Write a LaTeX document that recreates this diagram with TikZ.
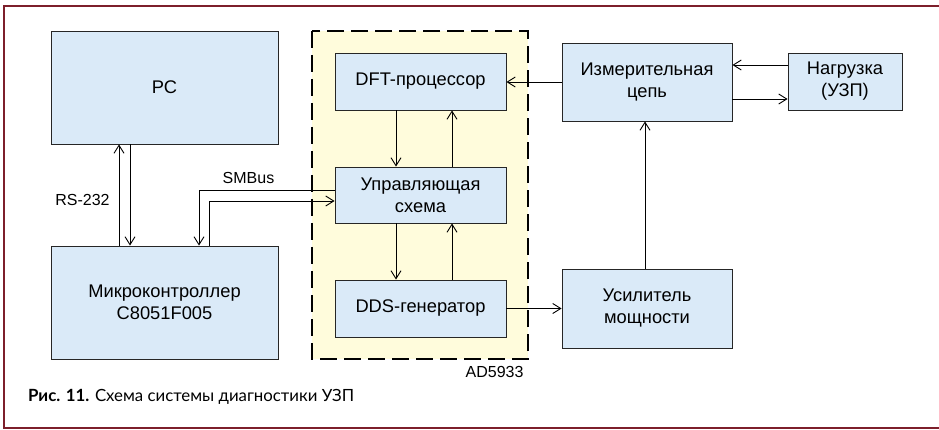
\documentclass[tikz,border=0pt]{standalone}
\usepackage{fontspec}
\setmainfont{Liberation Sans}
\newfontfamily\capfont{Lato}
\usetikzlibrary{arrows.meta}
\definecolor{boxblue}{HTML}{DAEAF8}
\definecolor{chipyellow}{HTML}{FFFCDC}
\definecolor{framered}{HTML}{7D1F2B}
\tikzset{
    blk/.style={draw=black!85, fill=boxblue, line width=0.9pt, align=center,
        font=\fontsize{18.3}{22}\selectfont, inner sep=0pt},
    lnk/.style={line width=0.9pt, -{Straight Barb[length=8pt,width=10pt,line width=0.9pt]}},
    wire/.style={line width=0.9pt},
    lbl/.style={font=\fontsize{16}{19}\selectfont}
}
\begin{document}
\begin{tikzpicture}[x=1pt, y=-1pt]
            \useasboundingbox (0,0) rectangle (939,430);
            % ---------- frame ----------
            \draw[framered, line width=2pt] (939,6) -- (4,6) -- (4,428) -- (939,428);
            % ---------- AD5933 ----------
            \draw[fill=chipyellow, line width=1.4pt, dash pattern=on 17pt off 7pt]
                (312,31) rectangle (528,359);
            \node[lbl, anchor=east] (chip) at (527,372) {AD5933};
            % ---------- blocks ----------
            \node[blk, minimum width=227pt, minimum height=113pt] (pc) at (164.5,87.5) {PC};
            \node[blk, minimum width=227pt, minimum height=113pt] (mcu) at (164.5,302.5)
                {Микроконтроллер\\C8051F005};
            \node[blk, minimum width=171pt, minimum height=57pt] (dft) at (420.5,81.5) {DFT-процессор};
            \node[blk, minimum width=171pt, minimum height=56pt] (ctrl) at (420.5,195)
                {Управляющая\\схема};
            \node[blk, minimum width=171pt, minimum height=57pt] (dds) at (420.5,308.5) {DDS-генератор};
            \node[blk, minimum width=170pt, minimum height=78pt] (meas) at (647,82)
                {Измерительная\\цепь};
            \node[blk, minimum width=114pt, minimum height=57pt] (load) at (845,81.5)
                {Нагрузка\\(УЗП)};
            \node[blk, minimum width=170pt, minimum height=79pt] (amp) at (647,308.5)
                {Усилитель\\мощности};
            % ---------- RS-232 ----------
            \draw[lnk] ([xshift=-45.5pt]mcu.north) -- ([xshift=-45.5pt]pc.south);
            \draw[lnk] ([xshift=-34.5pt]pc.south) -- ([xshift=-34.5pt]mcu.north);
            \node[lbl] (rs) at (82.5,200) {RS-232};
            % ---------- SMBus ----------
            \draw[lnk] ([yshift=5pt]ctrl.west) -| ([xshift=34.5pt]mcu.north);
            \draw[lnk] ([xshift=44.5pt]mcu.north) |- ([yshift=-6pt]ctrl.west);
            \node[lbl] (smbus) at (248.5,178) {SMBus};
            % ---------- inside the chip ----------
            \draw[lnk] ([xshift=-24.5pt]dft.south) -- ([xshift=-24.5pt]ctrl.north);
            \draw[lnk] ([xshift=31.5pt]ctrl.north) -- ([xshift=31.5pt]dft.south);
            \draw[lnk] ([xshift=-24.5pt]ctrl.south) -- ([xshift=-24.5pt]dds.north);
            \draw[lnk] ([xshift=31.5pt]dds.north) -- ([xshift=31.5pt]ctrl.south);
            % ---------- analog path ----------
            \draw[lnk] (dds.east) -- (dds.east -| amp.west);
            \draw[lnk] ([xshift=-2pt]amp.north) -- ([xshift=-2pt]meas.south);
            \draw[lnk] (meas.west) -- (meas.west -| dft.east);
            \draw[lnk] ([yshift=16.5pt]load.west) -- ([yshift=16.5pt]load.west -| meas.east);
            \draw[lnk] ([yshift=-17pt]meas.east) -- ([yshift=-17pt]meas.east -| load.west);
            % ---------- caption ----------
            \node[anchor=west, inner sep=0pt, font=\capfont\fontsize{16.8}{20}\selectfont] (cap) at (28,397)
                {\textbf{Рис. 11.} Схема системы диагностики УЗП};
\end{tikzpicture}
\end{document}
